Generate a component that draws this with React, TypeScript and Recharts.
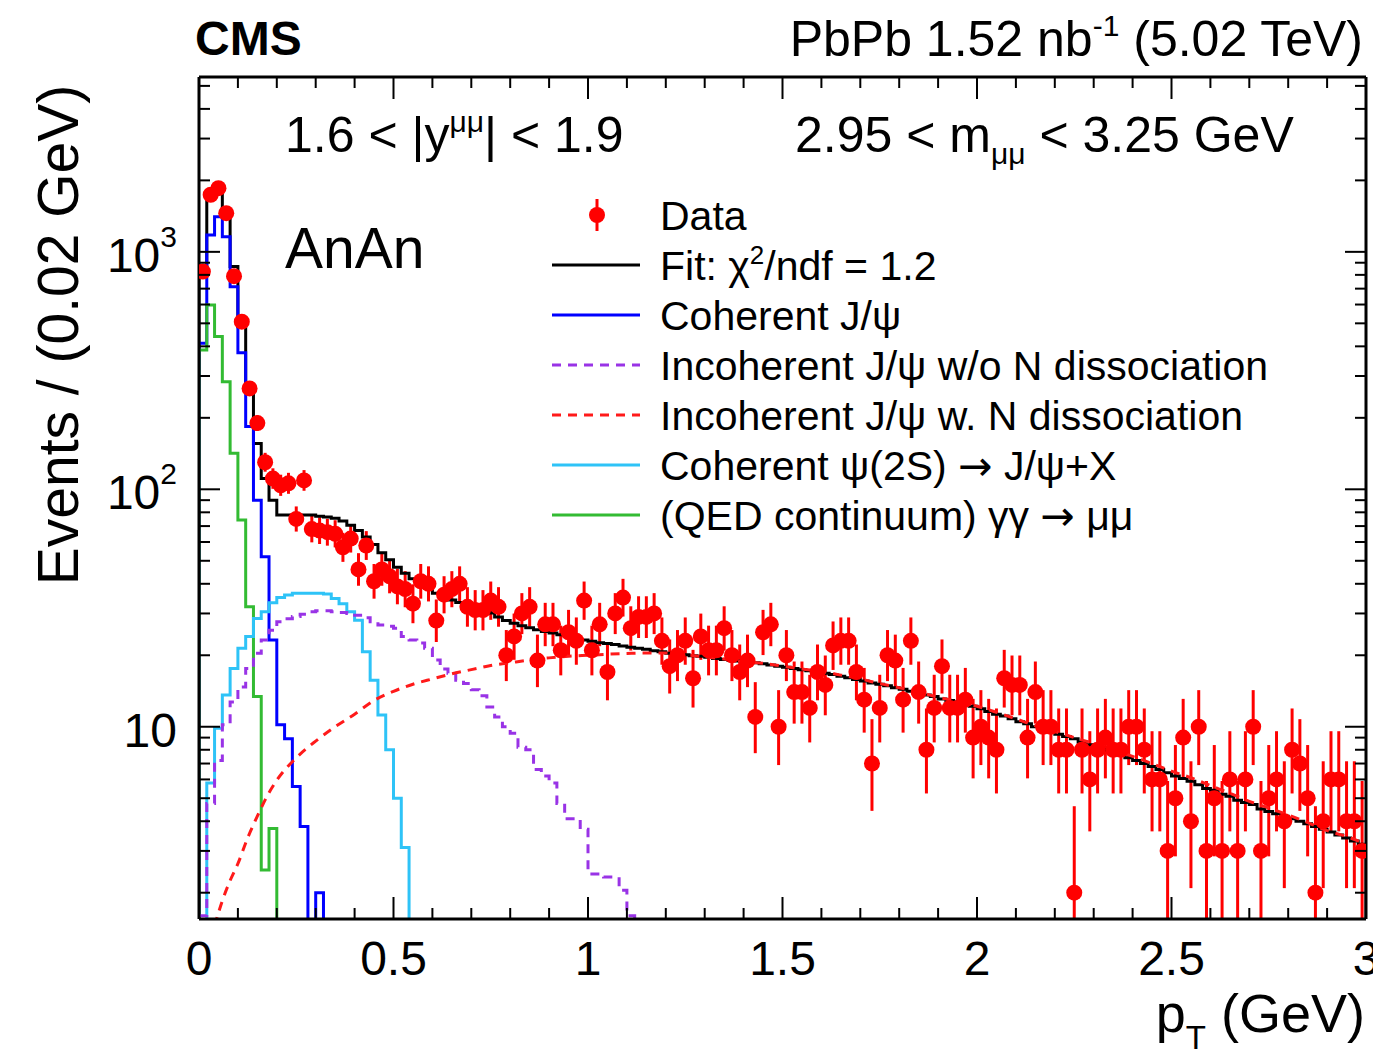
import React from 'react';
import { ComposedChart, Line, Scatter, XAxis, YAxis, ErrorBar } from 'recharts';

// ---------- data (0.02 GeV bins, 0 - 3 GeV) ----------
const BIN_WIDTH = 0.02;

// Data: events per bin
const DATA_COUNTS = [
  826, 1740, 1855, 1455, 790, 508, 266, 190, 130, 111,
  104, 106, 75, 109, 68, 67, 66, 65, 57, 62,
  46, 58, 41, 46, 43, 39, 38, 33, 41, 40,
  28, 36, 38, 40, 32, 31, 31, 34, 32, 20,
  24, 30, 32, 19, 27, 27, 21, 25, 23, 34,
  21, 27, 17, 30, 35, 26, 29, 29, 30, 23,
  18, 20, 23, 16, 24, 21, 21, 26, 20, 17,
  19, 11, 25, 27, 10, 20, 14, 14, 12, 17,
  15, 22, 23, 23, 17, 13, 7, 12, 20, 19,
  13, 23, 14, 8, 12, 18, 12, 12, 13, 9,
  10, 9, 8, 16, 15, 15, 9, 14, 10, 10,
  8, 8, 2, 8, 6, 8, 9, 8, 8, 10,
  10, 8, 6, 6, 3, 5, 9, 4, 10, 3,
  5, 3, 6, 3, 6, 10, 3, 5, 6, 4,
  8, 7, 5, 2, 4, 6, 6, 4, 4, 3,
];

// Total fit (histogram)
const FIT_TOTAL = [
  800, 1740, 1855, 1406, 867, 484, 258, 156, 111, 90,
  78, 78, 78, 78, 78, 77, 76.5, 75.5, 73.5, 70.5,
  67, 63, 58.5, 54, 50.5, 47, 44.3, 42, 40, 38.3,
  36.5, 35.3, 34.2, 33.4, 32.6, 31.6, 30.9, 30.1, 29.0, 28.0,
  27.3, 26.6, 26.1, 25.6, 25.2, 24.8, 24.4, 24.0, 23.6, 23.2,
  22.9, 22.6, 22.4, 22.2, 21.9, 21.6, 21.4, 21.2, 20.9, 20.7,
  20.4, 20.3, 20.1, 19.9, 19.8, 19.6, 19.4, 19.2, 19.0, 18.9,
  18.7, 18.6, 18.4, 18.2, 18.0, 17.8, 17.6, 17.4, 17.2, 17.0,
  16.8, 16.6, 16.3, 16.1, 15.8, 15.6, 15.3, 15.1, 14.9, 14.6,
  14.4, 14.1, 13.9, 13.6, 13.4, 13.1, 12.9, 12.7, 12.4, 12.2,
  11.9, 11.6, 11.3, 11.1, 10.8, 10.5, 10.3, 10.0, 9.8, 9.5,
  9.3, 9.1, 8.9, 8.6, 8.4, 8.2, 8.0, 7.8, 7.6, 7.4,
  7.2, 7.0, 6.8, 6.6, 6.4, 6.2, 6.05, 5.9, 5.7, 5.5,
  5.4, 5.2, 5.1, 4.9, 4.8, 4.7, 4.5, 4.4, 4.3, 4.2,
  4.1, 4.0, 3.9, 3.8, 3.7, 3.6, 3.5, 3.4, 3.3, 3.2,
];

// Coherent J/psi (histogram); 1 = below the axis
const COH_JPSI = [412, 1178, 1406, 1159, 713, 376, 184, 90, 52, 23.2, 10.2, 8.9, 5.6, 3.8, 1, 2.0];

// QED continuum gamma gamma -> mu mu (histogram)
const QED_CONT = [386, 597, 440, 284, 142, 74.3, 32, 13.4, 2.49, 3.73];

// Coherent psi(2S) -> J/psi + X (histogram)
const COH_PSI2S = [
  1, 5.8, 9.85, 13.6, 17.6, 21.4, 24.0, 28.6, 30.5, 33.3,
  35.0, 35.9, 36.5, 36.5, 36.5, 36.5, 36.2, 34.7, 33.0, 30.5,
  28.1, 20.7, 15.7, 11.2, 8.0, 5.0, 3.1,
];

// Incoherent J/psi w/o nucleon dissociation (histogram)
const INCOH_NODISS = [
  1.6, 4.75, 7.2, 10.2, 12.7, 14.7, 17.6, 20.4, 23.2, 25.5,
  27.7, 28.5, 29.1, 29.8, 30.5, 30.8, 30.8, 30.5, 30.3, 30.0,
  29.5, 28.8, 27.7, 26.8, 26.5, 26.0, 24.0, 23.2, 22.5, 21.4,
  19.1, 17.5, 16.8, 15.7, 15.2, 14.3, 13.5, 12.1, 11.0, 10.0,
  9.4, 8.2, 8.0, 6.6, 6.2, 5.8, 4.75, 4.1, 4.1, 3.7,
  2.4, 2.4, 2.33, 2.33, 2.05, 1.6,
];

// Incoherent J/psi with nucleon dissociation (smooth curve)
const DISS_PT = [
  0.04, 0.06, 0.08, 0.10, 0.125, 0.15, 0.175, 0.20, 0.25, 0.30,
  0.35, 0.40, 0.45, 0.50, 0.55, 0.60, 0.65, 0.70, 0.75, 0.80,
  0.85, 0.90, 0.95, 1.00, 1.05, 1.10, 1.15, 1.20, 1.25, 1.30,
  1.35, 1.40, 1.45, 1.50, 1.55, 1.60, 1.65, 1.70, 1.75, 1.80,
  1.85, 1.90, 1.95, 2.00, 2.05, 2.10, 2.15, 2.20, 2.25, 2.30,
  2.35, 2.40, 2.45, 2.50, 2.55, 2.60, 2.65, 2.70, 2.75, 2.80,
  2.85, 2.90, 2.95, 3.00,
];
const DISS_VAL = [
  1.45, 1.85, 2.25, 2.65, 3.4, 4.2, 5.1, 5.95, 7.4, 8.7,
  10.0, 11.3, 12.9, 14.1, 15.1, 15.9, 16.7, 17.4, 18.1, 18.6,
  19.1, 19.5, 19.8, 20.0, 20.2, 20.35, 20.45, 20.45, 20.1, 19.7,
  19.3, 18.8, 18.5, 18.0, 17.5, 17.1, 16.5, 15.9, 15.2, 14.6,
  14.0, 13.3, 12.8, 12.2, 11.5, 10.8, 10.1, 9.55, 9.0, 8.5,
  8.0, 7.5, 7.0, 6.5, 6.1, 5.65, 5.25, 4.85, 4.55, 4.25,
  3.95, 3.65, 3.45, 3.2,
];

// ---------- axes ----------
const X_TICKS = [
  0, 0.1, 0.2, 0.3, 0.4, 0.5, 0.6, 0.7, 0.8, 0.9, 1.0,
  1.1, 1.2, 1.3, 1.4, 1.5, 1.6, 1.7, 1.8, 1.9, 2.0,
  2.1, 2.2, 2.3, 2.4, 2.5, 2.6, 2.7, 2.8, 2.9, 3.0,
];
const X_LABELS = [0, 0.5, 1, 1.5, 2, 2.5, 3];
const Y_MAJOR = [10, 100, 1000];
const Y_TICKS = [
  2, 3, 4, 5, 6, 7, 8, 9, 10,
  20, 30, 40, 50, 60, 70, 80, 90, 100,
  200, 300, 400, 500, 600, 700, 800, 900, 1000,
  2000, 3000, 4000, 5000,
];
const Y_DOMAIN: [number, number] = [1.55, 5450];
const BELOW_AXIS = 1;

// ---------- layout ----------
const W = 1373;
const H = 1059;
const P_LEFT = 199;
const P_RIGHT = 1366;
const P_TOP = 77;
const P_BOTTOM = 919;
const AX = 1; // size given to each recharts axis band
const FONT = '"Liberation Sans", Arial, Helvetica, sans-serif';
const SYM = '"DejaVu Sans", sans-serif';

const C_DATA = '#ff0000';
const C_FIT = '#000000';
const C_COH = '#0000ff';
const C_NODISS = '#9933e6';
const C_DISS = '#ff1a1a';
const C_PSI2S = '#2ec3f7';
const C_QED = '#33bb33';

function steps(vals: number[]) {
  const pts = [{ x: 0, y: BELOW_AXIS }];
  vals.forEach((v, i) => pts.push({ x: i * BIN_WIDTH, y: v }));
  const end = vals.length * BIN_WIDTH;
  pts.push({ x: end, y: vals[vals.length - 1] });
  pts.push({ x: end, y: BELOW_AXIS });
  return pts;
}

// 68% Poisson interval (Wilson-Hilferty approximation of Garwood), lower end cut at the frame
function poissonErr(n: number): [number, number] {
  const lo = n * Math.pow(1 - 1 / (9 * n) - 1 / (3 * Math.sqrt(n)), 3);
  const m = n + 1;
  const hi = m * Math.pow(1 - 1 / (9 * m) + 1 / (3 * Math.sqrt(m)), 3);
  return [Math.min(n - lo, n - Y_DOMAIN[0]), hi - n];
}

const isMajorX = (v: number) => Math.abs(v * 2 - Math.round(v * 2)) < 1e-6;

const BottomTick = (p: any) => {
  const { x, payload } = p;
  const y = P_BOTTOM;
  const v = payload.value;
  const major = isMajorX(v);
  const len = major ? 22 : 11;
  return (
    <g>
      <line x1={x} x2={x} y1={y} y2={y - len} stroke="#000" strokeWidth={2} />
      {major && X_LABELS.some((l) => Math.abs(l - v) < 1e-6) && (
        <text x={x} y={y + 56} textAnchor="middle" fontSize={48} fontFamily={FONT} fill="#000">
          {String(Math.round(v * 10) / 10)}
        </text>
      )}
    </g>
  );
};

const TopTick = (p: any) => {
  const { x, payload } = p;
  const y = P_TOP;
  const len = isMajorX(payload.value) ? 22 : 11;
  return <line x1={x} x2={x} y1={y} y2={y + len} stroke="#000" strokeWidth={2} />;
};

const LeftTick = (p: any) => {
  const { y, payload } = p;
  const x = P_LEFT;
  const v = payload.value;
  const major = Y_MAJOR.includes(v);
  const len = major ? 21 : 11;
  const exp = Math.round(Math.log10(v));
  return (
    <g>
      <line x1={x} x2={x + len} y1={y} y2={y} stroke="#000" strokeWidth={2} />
      {major && (
        <text x={x - 22} y={y + 20} textAnchor="end" fontSize={48} fontFamily={FONT} fill="#000">
          10
          {exp > 1 && (
            <tspan dy={-25} fontSize={30}>
              {exp}
            </tspan>
          )}
        </text>
      )}
    </g>
  );
};

const RightTick = (p: any) => {
  const { y, payload } = p;
  const x = P_RIGHT;
  const len = Y_MAJOR.includes(payload.value) ? 21 : 11;
  return <line x1={x} x2={x - len} y1={y} y2={y} stroke="#000" strokeWidth={2} />;
};

const DataDot = (p: any) => {
  if (p.cx == null || p.cy == null || isNaN(p.cy)) return <g />;
  return <circle cx={p.cx} cy={p.cy} r={8} fill={C_DATA} />;
};

const LEGEND = [
  { kind: 'data', label: 'Data' },
  { kind: 'line', color: C_FIT, dash: undefined, label: 'fit' },
  { kind: 'line', color: C_COH, dash: undefined, label: 'coh' },
  { kind: 'line', color: C_NODISS, dash: '9 7', label: 'nodiss' },
  { kind: 'line', color: C_DISS, dash: '9 7', label: 'diss' },
  { kind: 'line', color: C_PSI2S, dash: undefined, label: 'psi2s' },
  { kind: 'line', color: C_QED, dash: undefined, label: 'qed' },
];

function legendText(key: string) {
  switch (key) {
    case 'Data':
      return <>Data</>;
    case 'fit':
      return (
        <>
          Fit: χ<tspan dy={-16} fontSize={26}>2</tspan>
          <tspan dy={16}>/ndf = 1.2</tspan>
        </>
      );
    case 'coh':
      return <>Coherent J/ψ</>;
    case 'nodiss':
      return <>Incoherent J/ψ w/o N dissociation</>;
    case 'diss':
      return <>Incoherent J/ψ w. N dissociation</>;
    case 'psi2s':
      return (
        <>
          Coherent ψ(2S) <tspan fontFamily={SYM}>→</tspan> J/ψ+X
        </>
      );
    case 'qed':
      return (
        <>
          (QED continuum) γγ <tspan fontFamily={SYM}>→</tspan> μμ
        </>
      );
  }
  return null;
}

export default function App() {
  const dataPoints = DATA_COUNTS.map((n, i) => ({
    x: (i + 0.5) * BIN_WIDTH,
    y: n,
    err: poissonErr(n),
  }));
  const dissCurve = DISS_PT.map((x, i) => ({ x, y: DISS_VAL[i] }));

  const lineCommon = {
    xAxisId: 'b',
    yAxisId: 'l',
    dataKey: 'y',
    dot: false,
    activeDot: false,
    isAnimationActive: false,
    strokeWidth: 3,
  } as any;

  const axisLine = { stroke: '#000', strokeWidth: 3 };

  return (
    <div style={{ position: 'absolute', left: 0, top: 0, width: W, height: H, background: '#fff' }}>
      <ComposedChart
        width={W}
        height={H}
        margin={{
          top: P_TOP - AX,
          right: W - P_RIGHT - AX,
          bottom: H - P_BOTTOM - AX,
          left: P_LEFT - AX,
        }}
      >
        <Scatter
          xAxisId="b"
          yAxisId="l"
          data={dataPoints}
          dataKey="y"
          fill={C_DATA}
          shape={DataDot}
          isAnimationActive={false}
        >
          <ErrorBar dataKey="err" direction="y" width={0} stroke={C_DATA} strokeWidth={3} />
        </Scatter>
        <Line {...lineCommon} data={steps(FIT_TOTAL)} type="stepAfter" stroke={C_FIT} />
        <Line {...lineCommon} data={steps(COH_JPSI)} type="stepAfter" stroke={C_COH} />
        <Line {...lineCommon} data={steps(QED_CONT)} type="stepAfter" stroke={C_QED} />
        <Line {...lineCommon} data={steps(COH_PSI2S)} type="stepAfter" stroke={C_PSI2S} />
        <Line
          {...lineCommon}
          data={steps(INCOH_NODISS)}
          type="stepAfter"
          stroke={C_NODISS}
          strokeDasharray="9 7"
        />
        <Line {...lineCommon} data={dissCurve} type="monotone" stroke={C_DISS} strokeDasharray="9 7" />

        <XAxis
          xAxisId="b"
          type="number"
          dataKey="x"
          domain={[0, 3]}
          allowDataOverflow
          ticks={X_TICKS}
          interval={0}
          height={AX}
          tickSize={0}
          tickMargin={0}
          tickLine={false}
          axisLine={axisLine}
          tick={BottomTick}
        />
        <XAxis
          xAxisId="t"
          orientation="top"
          type="number"
          dataKey="x"
          domain={[0, 3]}
          allowDataOverflow
          ticks={X_TICKS}
          interval={0}
          height={AX}
          tickSize={0}
          tickMargin={0}
          tickLine={false}
          axisLine={axisLine}
          tick={TopTick}
        />
        <YAxis
          yAxisId="l"
          type="number"
          dataKey="y"
          scale="log"
          domain={Y_DOMAIN}
          allowDataOverflow
          ticks={Y_TICKS}
          interval={0}
          width={AX}
          tickSize={0}
          tickMargin={0}
          tickLine={false}
          axisLine={axisLine}
          tick={LeftTick}
        />
        <YAxis
          yAxisId="r"
          orientation="right"
          type="number"
          dataKey="y"
          scale="log"
          domain={Y_DOMAIN}
          allowDataOverflow
          ticks={Y_TICKS}
          interval={0}
          width={AX}
          tickSize={0}
          tickMargin={0}
          tickLine={false}
          axisLine={axisLine}
          tick={RightTick}
        />
      </ComposedChart>

      <svg
        width={W}
        height={H}
        style={{ position: 'absolute', left: 0, top: 0, pointerEvents: 'none' }}
        fontFamily={FONT}
      >
        <text x={195} y={55} fontSize={48} fontWeight="bold" fill="#000">
          CMS
        </text>
        <text x={1363} y={56} fontSize={50} textAnchor="end" fill="#000">
          PbPb 1.52 nb
          <tspan dy={-20} fontSize={30}>
            -1
          </tspan>
          <tspan dy={20}> (5.02 TeV)</tspan>
        </text>

        <text x={285} y={152} fontSize={50} fill="#000">
          1.6 &lt; |y
          <tspan dy={-20} fontSize={30}>
            μμ
          </tspan>
          <tspan dy={20}>| &lt; 1.9</tspan>
        </text>
        <text x={795} y={152} fontSize={50} fill="#000">
          2.95 &lt; m
          <tspan dy={12} fontSize={30}>
            μμ
          </tspan>
          <tspan dy={-12}> &lt; 3.25 GeV</tspan>
        </text>
        <text x={285} y={268} fontSize={57} fill="#000">
          AnAn
        </text>

        {LEGEND.map((e, i) => {
          const cy = 215 + i * 50;
          return (
            <g key={i}>
              {e.kind === 'data' ? (
                <g>
                  <line x1={597} x2={597} y1={cy - 16} y2={cy + 16} stroke={C_DATA} strokeWidth={3} />
                  <circle cx={597} cy={cy} r={8} fill={C_DATA} />
                </g>
              ) : (
                <line
                  x1={552}
                  x2={640}
                  y1={cy}
                  y2={cy}
                  stroke={e.color}
                  strokeWidth={3}
                  strokeDasharray={e.dash}
                />
              )}
              <text x={660} y={cy + 15} fontSize={41} fill="#000">
                {legendText(e.label)}
              </text>
            </g>
          );
        })}

        <text
          transform="rotate(-90)"
          x={-335}
          y={78}
          fontSize={57}
          textAnchor="middle"
          fill="#000"
        >
          Events / (0.02 GeV)
        </text>
        <text x={1365} y={1032} fontSize={54} textAnchor="end" fill="#000">
          p
          <tspan dy={17} fontSize={33}>
            T
          </tspan>
          <tspan dy={-17}> (GeV)</tspan>
        </text>
      </svg>
    </div>
  );
}
